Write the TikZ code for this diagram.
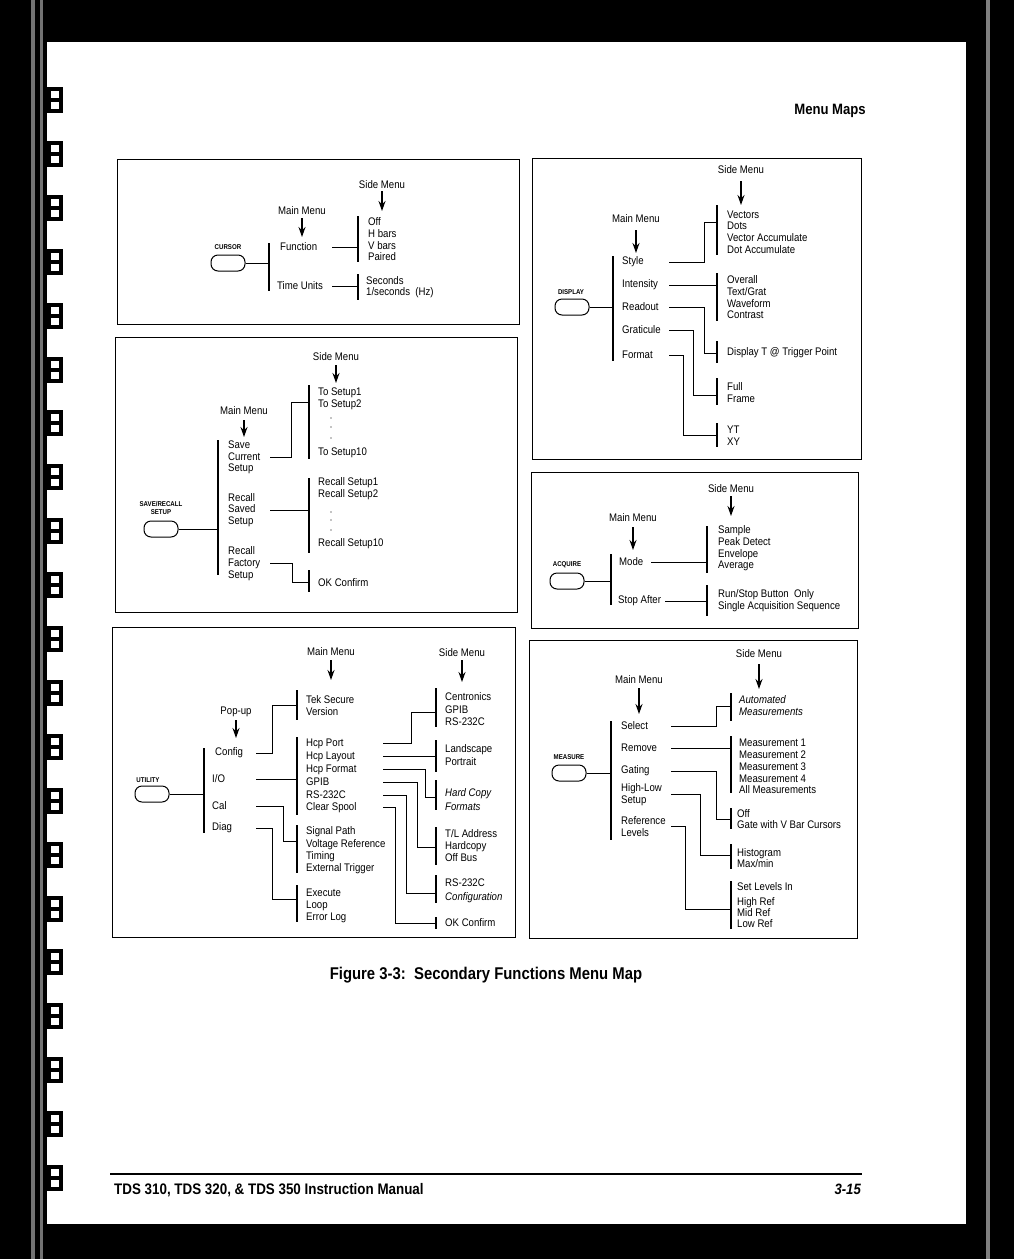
\documentclass[tikz,border=0pt]{standalone}
\usepackage{fontspec}
\setmainfont{Liberation Sans}[FakeStretch=0.875]
\usetikzlibrary{arrows.meta, positioning}

\tikzset{
  panel/.style={line width=1pt},
  bar/.style={line width=1.6pt},
  conn/.style={line width=1pt},
  item/.style={anchor=west, inner sep=0pt, font=\fontsize{11}{12}\selectfont},
  lst/.style={anchor=west, inner sep=0pt, align=left, font=\fontsize{11}{#1}\selectfont},
  lst/.default=11.7,
  hdr/.style={inner sep=0pt, font=\fontsize{11}{12}\selectfont},
  keylbl/.style={inner sep=0pt, align=center, font=\fontsize{7}{8}\selectfont\bfseries},
  btn/.style={draw, line width=1pt, rounded corners=7pt, minimum width=34pt, minimum height=16pt, inner sep=0pt},
  down/.style={-{Stealth[length=10pt,width=7pt]}, line width=1.3pt},
}

\begin{document}
\begin{tikzpicture}[x=1pt,y=-1pt]
  % Scanned page: dark surround, white sheet
  \useasboundingbox (0,0) rectangle (1014,1259);
  \fill[black] (0,0) rectangle (1014,1259);
  \fill[black!55] (31,0) rectangle (35,1259);
  \fill[black!55] (40,0) rectangle (43,1259);
  \fill[black!50] (986,0) rectangle (990,1259);
  \fill[white] (47,42) rectangle (966,1224);

  % Binding rings along the left edge
  \foreach \k in {0,...,20}{
    \pgfmathsetmacro\ry{100+53.9*\k}
    \fill[black] (46,\ry-13) rectangle (63,\ry+13);
    \fill[white] (51,\ry-9) rectangle (59,\ry-2);
    \fill[white] (51,\ry+2) rectangle (59,\ry+9);
  }

  % Running head
  \node[inner sep=0pt, anchor=east, font=\fontsize{15}{18}\selectfont\bfseries] (runhead) at (866,111) {Menu Maps};

  % ---------------- CURSOR ----------------
  \draw[panel] (117,159) rectangle (519,324);
  \node[hdr] (cside) at (382,185) {Side Menu};
  \draw[down] (cside) ++(0,6) -- ++(0,20);
  \node[hdr] (cmain) at (302,211) {Main Menu};
  \draw[down] (cmain) ++(0,7) -- ++(0,19);
  \node[keylbl] (ckey) at (228,247) {CURSOR};
  \node[btn] (cbtn) at (228,263) {};
  \coordinate (cm) at (269,243);
  \draw[bar] (cm) -- (269,291);
  \draw[conn] (cbtn.east) -- (cbtn.east -| cm);
  \node[item] (cfun) at (280,247) {Function};
  \node[item] (ctim) at (277,286) {Time Units};
  \coordinate (cx) at (332,0);
  \coordinate (cs1) at (358,216);
  \coordinate (cs2) at (358,274);
  \draw[bar] (cs1) -- (358,262);
  \draw[bar] (cs2) -- (358,300);
  \draw[conn] (cfun -| cx) -- (cfun -| cs1);
  \draw[conn] (ctim -| cx) -- (ctim -| cs2);
  \node[lst] (clist1) at (368,239.5) {Off\\H bars\\V bars\\Paired};
  \node[lst] (clist2) at (366,287) {Seconds\\1/seconds\ \ (Hz)};

  % ---------------- DISPLAY ----------------
  \draw[panel] (532,158) rectangle (861,459);
  \node[hdr] (dside) at (741,170) {Side Menu};
  \draw[down] (dside) ++(0,11) -- ++(0,24);
  \node[hdr] (dmain) at (636,219) {Main Menu};
  \draw[down] (dmain) ++(0,11) -- ++(0,23);
  \node[keylbl] (dkey) at (571,292) {DISPLAY};
  \node[btn] (dbtn) at (572,307) {};
  \coordinate (dm) at (613,256);
  \draw[bar] (dm) -- (613,361);
  \draw[conn] (dbtn.east) -- (dbtn.east -| dm);
  \node[item] (dsty) at (622,262) {Style};
  \node[item] (dint) at (622,285) {Intensity};
  \node[item] (drdo) at (622,307) {Readout};
  \node[item] (dgrt) at (622,330) {Graticule};
  \node[item] (dfmt) at (622,355) {Format};
  \coordinate (dx) at (669,0);
  \coordinate (ds1) at (717,222);
  \coordinate (ds2) at (717,285);
  \coordinate (ds3) at (717,353);
  \coordinate (ds4) at (717,395);
  \coordinate (ds5) at (717,435);
  \draw[bar] (717,205) -- (717,255);
  \draw[bar] (717,273) -- (717,321);
  \draw[bar] (717,341) -- (717,363);
  \draw[bar] (717,378) -- (717,405);
  \draw[bar] (717,423) -- (717,447);
  \draw[conn] (dsty -| dx) -| ([xshift=-13pt]ds1) -- (ds1);
  \draw[conn] (dint -| dx) -- (ds2);
  \draw[conn] (drdo -| dx) -| ([xshift=-13pt]ds3) -- (ds3);
  \draw[conn] (dgrt -| dx) -| ([xshift=-24pt]ds4) -- (ds4);
  \draw[conn] (dfmt -| dx) -| ([xshift=-34pt]ds5) -- (ds5);
  \node[lst] (dlist1) at (727,232) {Vectors\\Dots\\Vector Accumulate\\Dot Accumulate};
  \node[lst] (dlist2) at (727,297.5) {Overall\\Text/Grat\\Waveform\\Contrast};
  \node[item] (dlist3) at (727,353) {Display T @ Trigger Point};
  \node[lst] (dlist4) at (727,392.5) {Full\\Frame};
  \node[lst] (dlist5) at (727,436) {YT\\XY};

  % ---------------- SAVE/RECALL SETUP ----------------
  \draw[panel] (115,337) rectangle (517,612);
  \node[hdr] (sside) at (336,357) {Side Menu};
  \draw[down] (sside) ++(0,8) -- ++(0,18);
  \node[hdr] (smain) at (244,411) {Main Menu};
  \draw[down] (smain) ++(0,9) -- ++(0,17);
  \node[keylbl] (skey) at (161,508) {SAVE/RECALL\\SETUP};
  \node[btn] (sbtn) at (161,529) {};
  \coordinate (sm) at (218,440);
  \draw[bar] (sm) -- (218,575);
  \draw[conn] (sbtn.east) -- (sbtn.east -| sm);
  \node[lst] (ssav) at (228,457.5) {Save\\Current\\Setup};
  \node[lst] (srec) at (228,510) {Recall\\Saved\\Setup};
  \node[lst] (sfac) at (228,563.5) {Recall\\Factory\\Setup};
  \coordinate (sx) at (270,0);
  \coordinate (ss1) at (309,402);
  \coordinate (ss2) at (309,510);
  \coordinate (ss3) at (309,582);
  \draw[bar] (309,385) -- (309,459);
  \draw[bar] (309,478) -- (309,553);
  \draw[bar] (309,570) -- (309,592);
  \draw[conn] (ssav -| sx) -| ([xshift=-18pt]ss1) -- (ss1);
  \draw[conn] (srec -| sx) -- (ss2);
  \draw[conn] (sfac -| sx) -| ([xshift=-17pt]ss3) -- (ss3);
  \node[lst] (slist1) at (318,398.5) {To Setup1\\To Setup2};
  \node[item] (slist1b) at (318,453) {To Setup10};
  \node[lst] (slist2) at (318,488.5) {Recall Setup1\\Recall Setup2};
  \node[item] (slist2b) at (318,544) {Recall Setup10};
  \node[item] (slist3) at (318,583) {OK Confirm};
  \foreach \dy in {418,427,438,512,520,530}
    \fill (331,\dy) circle (0.7pt);

  % ---------------- ACQUIRE ----------------
  \draw[panel] (531,472) rectangle (858,628);
  \node[hdr] (aside) at (731,489) {Side Menu};
  \draw[down] (aside) ++(0,7) -- ++(0,20);
  \node[hdr] (amain) at (633,518) {Main Menu};
  \draw[down] (amain) ++(0,9) -- ++(0,23);
  \node[keylbl] (akey) at (567,565) {ACQUIRE};
  \node[btn] (abtn) at (567,581) {};
  \coordinate (am) at (611,554);
  \draw[bar] (am) -- (611,605);
  \draw[conn] (abtn.east) -- (abtn.east -| am);
  \node[item] (amod) at (619,562) {Mode};
  \node[item] (astp) at (618,601) {Stop After};
  \coordinate (as1) at (707,526);
  \coordinate (as2) at (707,585);
  \draw[bar] (as1) -- (707,573);
  \draw[bar] (as2) -- (707,616);
  \draw[conn] ([xshift=8pt]amod.east) -- (amod -| as1);
  \draw[conn] ([xshift=4pt]astp.east) -- (astp -| as2);
  \node[lst] (alist1) at (718,548.5) {Sample\\Peak Detect\\Envelope\\Average};
  \node[lst] (alist2) at (718,600.5) {Run/Stop Button\ \ Only\\Single Acquisition Sequence};

  % ---------------- UTILITY ----------------
  \draw[panel] (112,627) rectangle (515,937);
  \node[hdr] (umain) at (331,652) {Main Menu};
  \draw[down] (umain) ++(0,8) -- ++(0,20);
  \node[hdr] (uside) at (462,653) {Side Menu};
  \draw[down] (uside) ++(0,7) -- ++(0,22);
  \node[hdr] (upop) at (236,712) {Pop-up};
  \draw[down] (upop) ++(0,8) -- ++(0,18);
  \node[keylbl] (ukey) at (148,780) {UTILITY};
  \node[btn] (ubtn) at (152,794) {};
  \coordinate (up) at (204,748);
  \draw[bar] (up) -- (204,833);
  \draw[conn] (ubtn.east) -- (ubtn.east -| up);
  \node[item] (ucfg) at (215,753) {Config};
  \node[item] (uio) at (212,779) {I/O};
  \node[item] (ucal) at (212,806) {Cal};
  \node[item] (udia) at (212,828) {Diag};
  \coordinate (ux) at (256,0);
  \coordinate (um1) at (297,705);
  \coordinate (um2) at (297,779);
  \coordinate (um3) at (297,841);
  \coordinate (um4) at (297,899);
  \draw[bar] (297,690) -- (297,720);
  \draw[bar] (297,737) -- (297,815);
  \draw[bar] (297,825) -- (297,873);
  \draw[bar] (297,885) -- (297,922);
  \draw[conn] (ucfg -| ux) -| ([xshift=-25pt]um1) -- (um1);
  \draw[conn] (uio -| ux) -- (um2);
  \draw[conn] (ucal -| ux) -| ([xshift=-14pt]um3) -- (um3);
  \draw[conn] (udia -| ux) -| ([xshift=-25pt]um4) -- (um4);
  \node[lst=12.8] (ulist1) at (306,705.5) {Tek Secure\\Version};
  \foreach \t [count=\i] in {Hcp Port, Hcp Layout, Hcp Format, GPIB, RS-232C, Clear Spool}
    \node[item] (uh\i) at (306,{731+12.8*\i}) {\t};
  \node[lst=12.3] (ulist3) at (306,850.5) {Signal Path\\Voltage Reference\\Timing\\External Trigger};
  \node[lst=12] (ulist4) at (306,905.5) {Execute\\Loop\\Error Log};
  \coordinate (uy) at (383,0);
  \coordinate (us1) at (436,712);
  \coordinate (us2) at (436,757);
  \coordinate (us3) at (436,797);
  \coordinate (us4) at (436,847);
  \coordinate (us5) at (436,893);
  \coordinate (us6) at (436,923);
  \draw[bar] (436,688) -- (436,727);
  \draw[bar] (436,740) -- (436,772);
  \draw[bar] (436,780) -- (436,810);
  \draw[bar] (436,827) -- (436,865);
  \draw[bar] (436,875) -- (436,903);
  \draw[bar] (436,917) -- (436,929);
  \draw[conn] (uh1 -| uy) -| ([xshift=-25pt]us1) -- (us1);
  \draw[conn] (uh2 -| uy) -- (uh2 -| us2);
  \draw[conn] (uh3 -| uy) -| ([xshift=-11pt]us3) -- (us3);
  \draw[conn] (uh4 -| uy) -| ([xshift=-19pt]us4) -- (us4);
  \draw[conn] (uh5 -| uy) -| ([xshift=-30pt]us5) -- (us5);
  \draw[conn] (uh6 -| uy) -| ([xshift=-41pt]us6) -- (us6);
  \node[lst=12.5] (uslist1) at (445,709.5) {Centronics\\GPIB\\RS-232C};
  \node[lst=13] (uslist2) at (445,755.5) {Landscape\\Portrait};
  \node[lst=14, font=\fontsize{11}{14}\selectfont\itshape] (uslist3) at (445,800) {Hard Copy\\Formats};
  \node[lst=12] (uslist4) at (445,846) {T/L Address\\Hardcopy\\Off Bus};
  \node[lst=15] (uslist5a) at (445,883) {RS-232C};
  \node[item, font=\fontsize{11}{12}\selectfont\itshape] (uslist5b) at (445,898) {Configuration};
  \node[item] (uslist6) at (445,923) {OK Confirm};

  % ---------------- MEASURE ----------------
  \draw[panel] (529,640) rectangle (857,938);
  \node[hdr] (mside) at (759,654) {Side Menu};
  \draw[down] (mside) ++(0,10) -- ++(0,25);
  \node[hdr] (mmain) at (639,680) {Main Menu};
  \draw[down] (mmain) ++(0,8) -- ++(0,26);
  \node[keylbl] (mkey) at (569,757) {MEASURE};
  \node[btn] (mbtn) at (569,773) {};
  \coordinate (mm) at (611,721);
  \draw[bar] (mm) -- (611,840);
  \draw[conn] (mbtn.east) -- (mbtn.east -| mm);
  \node[item] (msel) at (621,726) {Select};
  \node[item] (mrem) at (621,748) {Remove};
  \node[item] (mgat) at (621,771) {Gating};
  \node[lst] (mhil) at (621,794.5) {High-Low\\Setup};
  \node[lst] (mref) at (621,826.5) {Reference\\Levels};
  \coordinate (mx) at (671,0);
  \coordinate (ms1) at (731,706);
  \coordinate (ms2) at (731,748);
  \coordinate (ms3) at (731,819);
  \coordinate (ms4) at (731,855);
  \coordinate (ms5) at (731,909);
  \draw[bar] (731,693) -- (731,721);
  \draw[bar] (731,736) -- (731,793);
  \draw[bar] (731,808) -- (731,829);
  \draw[bar] (731,844) -- (731,869);
  \draw[bar] (731,881) -- (731,929);
  \draw[conn] (msel -| mx) -| ([xshift=-15pt]ms1) -- (ms1);
  \draw[conn] (mrem -| mx) -- (ms2);
  \draw[conn] (mgat -| mx) -| ([xshift=-15pt]ms3) -- (ms3);
  \draw[conn] (mhil -| mx) -| ([xshift=-31pt]ms4) -- (ms4);
  \draw[conn] (mref -| mx) -| ([xshift=-46pt]ms5) -- (ms5);
  \node[lst, font=\fontsize{11}{12}\selectfont\itshape] (mlist1) at (739,706) {Automated\\Measurements};
  \node[lst=11.8] (mlist2) at (739,766.5) {Measurement 1\\Measurement 2\\Measurement 3\\Measurement 4\\All Measurements};
  \node[lst] (mlist3) at (737,819) {Off\\Gate with V Bar Cursors};
  \node[lst] (mlist4) at (737,858) {Histogram\\Max/min};
  \node[item] (mlist5a) at (737,887) {Set Levels In};
  \node[lst=11] (mlist5b) at (737,913) {High Ref\\Mid Ref\\Low Ref};

  % Caption and footer
  \node[inner sep=0pt, font=\fontsize{17}{20}\selectfont\bfseries] (figcap) at (486,975) {Figure 3-3:\ \ Secondary Functions Menu Map};
  \draw[line width=1.2pt] (110,1174) -- (862,1174);
  \node[inner sep=0pt, anchor=base west, font=\fontsize{15.3}{18}\selectfont\bfseries] (foot) at (114,1194) {TDS 310, TDS 320, \& TDS 350 Instruction Manual};
  \node[inner sep=0pt, anchor=base east, font=\fontsize{15}{18}\selectfont\bfseries\itshape] (pageno) at (861,1194) {3-15};
\end{tikzpicture}
\end{document}
